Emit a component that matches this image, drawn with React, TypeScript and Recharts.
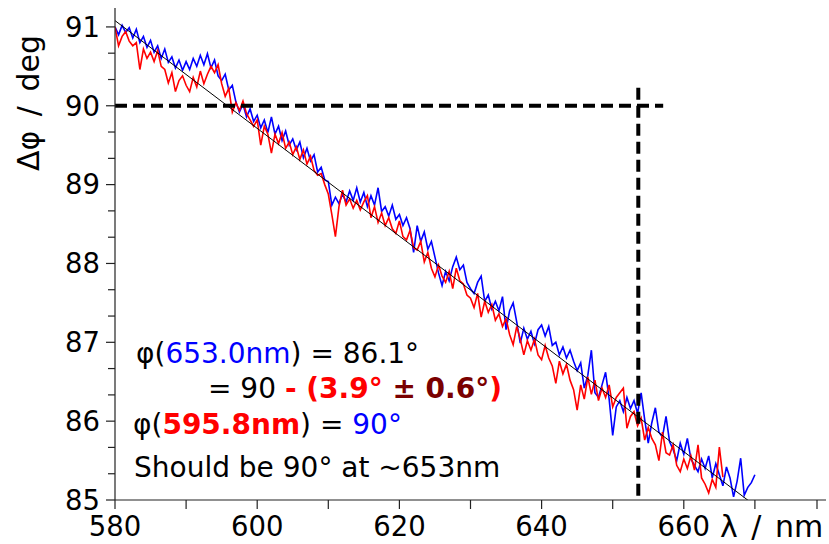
import { LineChart, Line, XAxis, YAxis } from "recharts";

// wavelength grid of both traces (nm)
const lambdaStart = 580;
const lambdaStep = 0.5;

// measured phase difference, blue trace (deg), 580 .. 670 nm
const blueValues = [
  91.0, 90.9, 91.02, 90.93, 90.99, 90.86, 90.97, 90.8, 90.88, 90.74,
  90.83, 90.68, 90.76, 90.6, 90.72, 90.55, 90.62, 90.48, 90.58, 90.45,
  90.56, 90.46, 90.6, 90.5, 90.64, 90.52, 90.66, 90.48, 90.58, 90.38,
  90.32, 90.4, 90.2, 90.26, 90.05, 89.92, 90.02, 89.86, 89.96, 89.8,
  89.88, 89.72, 89.82, 89.66, 89.86, 89.64, 89.74, 89.56, 89.68, 89.5,
  89.58, 89.44, 89.54, 89.34, 89.46, 89.3, 89.38, 89.16, 89.22, 89.06,
  89.04, 88.74, 88.84, 88.76, 88.88, 88.78, 88.92, 88.8, 88.96, 88.78,
  88.9, 88.72, 88.86, 88.74, 88.96, 88.66, 88.72, 88.6, 88.74, 88.56,
  88.62, 88.48, 88.58, 88.44, 88.14, 88.48, 88.28, 88.4, 88.18, 88.28,
  88.08, 87.88, 87.72, 87.9, 87.78, 87.96, 88.08, 87.92, 87.98, 87.76,
  87.68, 87.62, 87.76, 87.84, 87.52, 87.6, 87.42, 87.52, 87.4, 87.58,
  87.16, 87.4, 87.5, 87.26, 86.99, 87.18, 87.04, 87.14, 86.98, 87.16,
  87.22, 87.08, 87.2, 86.96, 87.0, 86.84, 86.94, 86.8, 86.9, 86.76,
  86.64, 86.74, 86.42, 86.58, 86.9, 86.36, 86.3, 86.46, 86.62, 86.28,
  85.82, 86.18, 86.26, 86.12, 86.3, 86.16, 86.26, 86.1, 86.36, 86.02,
  85.72, 85.98, 86.17, 85.86, 85.8, 86.06, 85.74, 85.64, 85.5, 85.72,
  85.58, 85.78, 85.52, 85.44, 85.36, 85.52, 85.4, 85.56, 85.28, 85.46,
  85.32, 85.18, 85.42, 85.28, 85.04, 85.24, 85.53, 85.06, 85.16, 85.22,
  85.32,
];

// measured phase difference, red trace (deg), 580 .. 665.5 nm
const redValues = [
  91.0, 90.76, 90.88, 90.94, 90.82, 90.76, 90.8, 90.46, 90.72, 90.6,
  90.68, 90.56, 90.7, 90.5, 90.46, 90.29, 90.42, 90.18, 90.32, 90.38,
  90.26, 90.18, 90.36, 90.24, 90.44, 90.28, 90.4, 90.5, 90.42, 90.52,
  90.28, 90.12, 90.22, 89.92, 90.04, 89.94, 90.06, 89.9, 89.82, 89.74,
  89.82, 89.5, 89.74, 89.64, 89.4, 89.64, 89.52, 89.66, 89.46, 89.54,
  89.38, 89.48, 89.32, 89.44, 89.26, 89.36, 89.18, 89.12, 89.14, 89.0,
  88.88, 88.62, 88.34, 88.72, 88.93, 88.74, 88.82, 88.7, 88.8, 88.68,
  88.78, 88.86, 88.58, 88.72, 88.52, 88.64, 88.48, 88.58, 88.44, 88.38,
  88.54, 88.34, 88.3, 88.42, 88.2, 88.17, 88.28, 88.02, 88.14, 87.94,
  87.83, 87.98, 87.84, 87.76, 87.9, 87.68, 87.94, 87.78, 87.74, 87.6,
  87.56, 87.44, 87.62, 87.32, 87.52, 87.38, 87.48, 87.28, 87.36, 87.2,
  87.3, 87.1, 86.97, 87.2, 87.04, 86.84, 87.02, 86.9, 87.04, 86.84,
  86.78, 86.96, 86.8, 86.7, 86.48, 86.76, 86.6, 86.72, 86.52, 86.4,
  86.14, 86.46, 86.28, 86.56, 86.34, 86.52, 86.26, 86.42, 86.3, 86.46,
  86.18, 86.3, 86.36, 86.42, 85.91, 86.06, 86.12, 85.94, 86.04, 85.76,
  85.92, 85.78, 85.7, 85.5, 85.86, 85.6, 85.57, 85.7, 85.44, 85.36,
  85.52, 85.4, 85.56, 85.38, 85.7, 85.28, 85.2, 85.09, 85.26, 85.16,
  85.67, 85.29,
];

// linear fit through the data
const fitLine = [
  { x: 580, y: 91.08 },
  { x: 670, y: 84.93 },
];

// dashed guide lines: 90 deg level and 653.6 nm marker
const levelLine = [
  { x: 580, y: 90 },
  { x: 657.1, y: 90 },
];
const markerLine = [
  { x: 653.6, y: 90.23 },
  { x: 653.6, y: 85 },
];

const xTicks = [580, 590, 600, 610, 620, 630, 640, 650, 660, 670, 680];
const xLabels = [580, 600, 620, 640, 660];
const yTicks = [
  85, 85.333, 85.667, 86, 86.333, 86.667, 87, 87.333, 87.667, 88, 88.333,
  88.667, 89, 89.333, 89.667, 90, 90.333, 90.667, 91,
];

const blueData = blueValues.map((v, i) => ({ x: lambdaStart + i * lambdaStep, y: v }));
const redData = redValues.map((v, i) => ({ x: lambdaStart + i * lambdaStep, y: v }));

const FONT = "'DejaVu Sans', sans-serif";
const W = 829;
const H = 544;

const XTick = ({ x, y, payload }: any) => {
  const v = payload.value;
  const axisY = y - 9 - 7;
  return (
    <g>
      <line x1={x} x2={x} y1={axisY} y2={axisY + 9} stroke="#222" strokeWidth={1.2} />
      {xLabels.includes(v) && (
        <text x={x} y={y} dy="0.71em" textAnchor="middle" fontSize={27.5} fontFamily={FONT} fill="#000">
          {v}
        </text>
      )}
    </g>
  );
};

const YTick = ({ x, y, payload }: any) => {
  const v = payload.value;
  const axisX = x + 9 + 6;
  const major = Math.abs(v - Math.round(v)) < 0.01;
  return (
    <g>
      <line x1={axisX - (major ? 9 : 7)} x2={axisX} y1={y} y2={y} stroke="#222" strokeWidth={1.2} />
      {major && (
        <text x={x} y={y} dy="0.355em" textAnchor="end" fontSize={27.5} fontFamily={FONT} fill="#000">
          {Math.round(v)}
        </text>
      )}
    </g>
  );
};

export default function App() {
  return (
    <div style={{ position: "absolute", left: 0, top: 0, width: W, height: H, background: "#fff" }}>
      <LineChart width={W} height={H} margin={{ top: 8, right: 3, left: 0, bottom: 0 }}>
        <XAxis
          type="number"
          dataKey="x"
          domain={[580, 680]}
          ticks={xTicks}
          tick={<XTick />}
          tickLine={false}
          tickSize={9}
          tickMargin={7}
          height={44}
          axisLine={{ stroke: "#222", strokeWidth: 1.2 }}
          allowDataOverflow
        />
        <YAxis
          type="number"
          dataKey="y"
          domain={[85, 91.24]}
          ticks={yTicks}
          tick={<YTick />}
          tickLine={false}
          tickSize={9}
          tickMargin={6}
          width={115}
          axisLine={{ stroke: "#222", strokeWidth: 1.2 }}
          allowDataOverflow
        />
        <Line data={blueData} dataKey="y" stroke="#0000ff" strokeWidth={1.6} dot={false} isAnimationActive={false} />
        <Line data={redData} dataKey="y" stroke="#ff0000" strokeWidth={1.6} dot={false} isAnimationActive={false} />
        <Line data={fitLine} dataKey="y" stroke="#000" strokeWidth={1} dot={false} isAnimationActive={false} />
        <Line data={levelLine} dataKey="y" stroke="#000" strokeWidth={4} strokeDasharray="12 6" dot={false} isAnimationActive={false} />
        <Line data={markerLine} dataKey="y" stroke="#000" strokeWidth={4} strokeDasharray="12 6" dot={false} isAnimationActive={false} />
      </LineChart>
      <svg
        width={W}
        height={H}
        style={{ position: "absolute", left: 0, top: 0, pointerEvents: "none" }}
        fontFamily={FONT}
        fontSize={28}
        xmlSpace="preserve"
      >
        <text x={28} y={103} transform="rotate(-90 28 103)" textAnchor="middle" dominantBaseline="central" fontSize={30} wordSpacing={5}>
          Δφ / deg
        </text>
        <text x={720} y={537} fontSize={30} wordSpacing={4}>
          λ / nm
        </text>
        <text x={136} y={363}>
          φ(<tspan fill="#0000ff">653.0nm</tspan>) = 86.1°
        </text>
        <text x={208} y={398}>
          = 90 <tspan fill="#ff0000" fontWeight="bold">- (3.9° </tspan>
          <tspan fill="#7a0000" fontWeight="bold">± 0.6°</tspan>
          <tspan fill="#ff0000" fontWeight="bold">)</tspan>
        </text>
        <text x={133} y={434}>
          φ(<tspan fill="#ff0000" fontWeight="bold">595.8nm</tspan>) = <tspan fill="#0000ff">90°</tspan>
        </text>
        <text x={134} y={476.5}>Should be 90° at ~653nm</text>
      </svg>
    </div>
  );
}
